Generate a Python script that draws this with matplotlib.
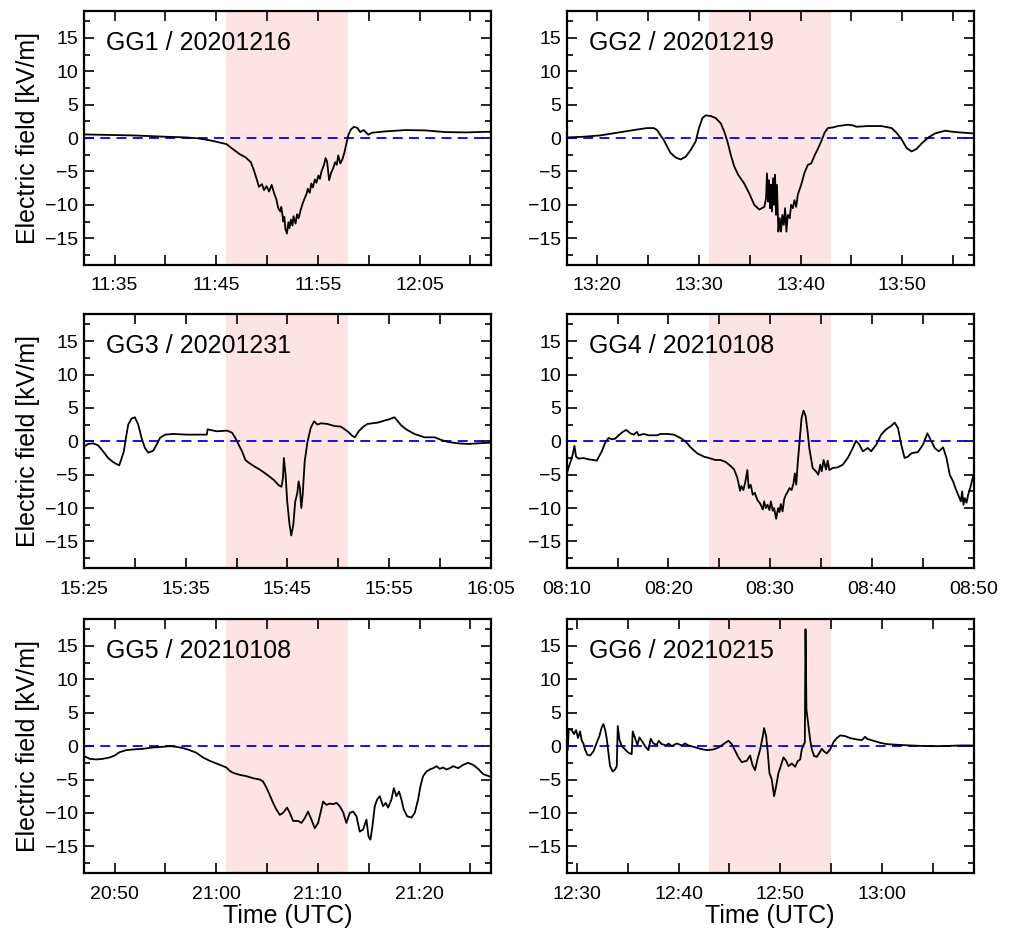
import numpy as np
import matplotlib
matplotlib.use('Agg')
import matplotlib.pyplot as plt
from matplotlib.ticker import MultipleLocator

plt.rcParams['font.family'] = ['Liberation Sans', 'DejaVu Sans']

# panel names, window start (40 min windows), start of shaded 12 min interval
names = ['GG1 / 20201216', 'GG2 / 20201219', 'GG3 / 20201231',
         'GG4 / 20210108', 'GG5 / 20210108', 'GG6 / 20210215']
starts = ['11:32', '13:17', '15:25', '08:10', '20:47', '12:29']
shade_on = ['11:46', '13:31', '15:39', '08:24', '21:01', '12:43']
shade_len = 12
xlabels = [['11:35', '11:45', '11:55', '12:05'],
           ['13:20', '13:30', '13:40', '13:50'],
           ['15:25', '15:35', '15:45', '15:55', '16:05'],
           ['08:10', '08:20', '08:30', '08:40', '08:50'],
           ['20:50', '21:00', '21:10', '21:20'],
           ['12:30', '12:40', '12:50', '13:00']]

# minutes after window start, electric field [kV/m]
t1 = [0.0, 1.5, 4.8, 8.1, 10.0, 11.3, 12.6, 14.0, 14.6, 15.3,
      15.9, 16.4, 16.7, 17.05, 17.2, 17.5, 17.7, 17.95, 18.2, 18.45,
      18.7, 18.9, 19.1, 19.3, 19.4, 19.6, 19.7, 19.8, 19.95, 20.1,
      20.2, 20.35, 20.5, 20.6, 20.8, 20.95, 21.1, 21.3, 21.5, 21.7,
      21.9, 22.0, 22.2, 22.35, 22.5, 22.7, 22.85, 23.05, 23.2, 23.35,
      23.6, 23.75, 23.9, 24.1, 24.3, 24.5, 24.7, 24.85, 25.0, 25.2,
      25.4, 25.6, 25.8, 26.0, 26.25, 26.55, 26.9, 27.15, 27.5, 27.7,
      27.95, 28.3, 29.6, 31.6, 33.55, 35.5, 37.5, 40.0]
e1 = [0.55, 0.5, 0.4, 0.2, 0.1, -0.05, -0.4, -0.9, -1.6, -2.4,
      -2.9, -3.6, -4.8, -6.5, -7.3, -6.9, -7.8, -7.2, -8.0, -7.0,
      -8.3, -9.1, -10.5, -11.0, -10.3, -12.5, -11.8, -13.6, -14.3, -12.6,
      -13.5, -12.2, -13.1, -11.7, -12.8, -11.4, -12.0, -10.8, -9.8, -9.0,
      -8.3, -7.6, -8.2, -6.8, -7.4, -6.2, -6.7, -5.6, -6.1, -5.0,
      -4.0, -3.0, -3.5, -6.3, -5.2, -4.5, -3.6, -4.0, -2.6, -3.8,
      -3.2, -2.2, -0.8, 0.5, 1.3, 1.7, 1.5, 0.9, 1.2, 0.9,
      0.5, 0.8, 1.0, 1.2, 1.15, 0.9, 0.85, 0.95]

t2 = [0.0, 1.65, 3.3, 4.94, 6.59, 7.9, 8.56, 8.89, 9.22, 9.55,
      9.88, 10.2, 10.7, 11.2, 11.69, 12.18, 12.68, 13.0, 13.34, 13.66,
      14.16, 14.65, 15.15, 15.48, 15.8, 16.13, 16.46, 16.86, 17.45, 17.95,
      18.44, 18.93, 19.43, 19.6, 19.69, 19.79, 19.89, 19.99, 20.08, 20.18,
      20.28, 20.38, 20.48, 20.58, 20.67, 20.81, 20.94, 21.07, 21.2, 21.34,
      21.47, 21.6, 21.73, 21.93, 22.06, 22.23, 22.39, 22.56, 22.72, 23.05,
      23.38, 23.71, 24.04, 24.37, 24.7, 25.02, 25.35, 25.68, 26.18, 26.67,
      27.66, 28.15, 28.48, 29.63, 30.95, 31.94, 32.43, 32.93, 33.42, 33.92,
      34.41, 34.9, 35.56, 36.22, 37.2, 38.2, 40.0]
e2 = [0.1, 0.2, 0.4, 0.8, 1.2, 1.5, 1.5, 1.2, 0.4, -0.3,
      -1.3, -2.2, -2.9, -3.2, -2.8, -1.8, -0.5, 1.5, 3.0, 3.4,
      3.3, 3.0, 2.2, 1.0, -0.5, -2.5, -4.2, -5.5, -6.8, -8.3,
      -10.0, -10.7, -10.3, -9.0, -5.3, -9.5, -6.3, -10.5, -7.0, -11.0,
      -6.0, -10.0, -5.5, -11.5, -7.0, -14.0, -12.0, -14.0, -11.5, -13.0,
      -10.5, -14.0, -11.5, -12.0, -10.0, -10.5, -9.3, -10.3, -8.5, -7.0,
      -5.2, -4.0, -3.8, -2.6, -1.6, -0.5, 0.8, 1.5, 1.6, 1.8,
      2.0, 1.9, 1.7, 1.8, 1.8, 1.5, 0.8, -0.2, -1.5, -2.0,
      -1.6, -0.8, 0.1, 0.7, 1.1, 0.9, 0.7]

t3 = [0.0, 0.4, 0.89, 1.38, 1.88, 2.37, 2.86, 3.19, 3.46, 3.69,
      3.92, 4.12, 4.35, 4.67, 5.0, 5.33, 5.66, 5.99, 6.32, 6.81,
      7.14, 7.47, 7.97, 8.79, 10.1, 11.42, 12.08, 12.15, 12.41, 13.07,
      14.06, 14.55, 14.88, 15.21, 15.54, 15.87, 16.2, 16.69, 17.35, 18.0,
      18.67, 19.16, 19.42, 19.56, 19.65, 19.82, 19.98, 20.21, 20.38, 20.58,
      20.77, 20.97, 21.1, 21.23, 21.37, 21.5, 21.7, 21.96, 22.29, 22.62,
      22.95, 23.28, 23.93, 24.59, 25.25, 25.91, 26.4, 26.63, 27.06, 27.56,
      27.88, 28.87, 29.53, 30.02, 30.52, 30.85, 31.18, 31.67, 32.49, 33.48,
      34.47, 35.13, 35.79, 36.77, 37.76, 38.75, 40.0]
e3 = [-0.8, -0.4, -0.3, -0.6, -1.5, -2.5, -3.1, -3.4, -3.6, -2.6,
      -1.5, 0.5, 2.5, 3.4, 3.6, 2.5, 0.5, -1.0, -1.7, -1.4,
      -0.5, 0.5, 1.0, 1.1, 1.0, 1.0, 1.0, 1.8, 1.7, 1.5,
      1.6, 1.3, 0.5, -0.5, -1.5, -2.8, -3.2, -3.7, -4.3, -5.0,
      -5.8, -6.6, -6.8, -5.5, -2.5, -5.0, -9.0, -12.5, -14.1, -12.5,
      -9.0, -7.8, -6.0, -7.0, -10.0, -8.0, -3.0, -0.2, 2.0, 3.0,
      2.5, 2.7, 2.6, 2.3, 2.2, 1.5, 0.8, 0.6, 1.6, 2.3,
      2.6, 2.8, 3.1, 3.3, 3.6, 3.0, 2.4, 1.8, 1.1, 0.6,
      0.6, 0.2, -0.1, -0.3, -0.4, -0.3, -0.2]

t4 = [0.0, 0.16, 0.39, 0.59, 0.76, 0.92, 1.15, 1.64, 2.14, 2.63,
      2.96, 3.13, 3.45, 3.78, 4.11, 4.44, 4.77, 5.1, 5.59, 5.86,
      6.25, 6.58, 6.91, 7.07, 7.57, 8.06, 8.88, 9.21, 9.87, 10.53,
      11.18, 11.68, 12.17, 12.83, 13.49, 13.98, 14.64, 15.13, 15.63, 16.12,
      16.45, 16.61, 16.78, 16.91, 17.04, 17.17, 17.37, 17.57, 17.76, 17.89,
      18.09, 18.29, 18.49, 18.75, 19.01, 19.28, 19.41, 19.57, 19.74, 19.93,
      20.07, 20.26, 20.39, 20.59, 20.79, 20.92, 21.05, 21.22, 21.38, 21.55,
      21.71, 21.91, 22.11, 22.3, 22.43, 22.57, 22.7, 22.89, 23.09, 23.29,
      23.49, 23.68, 23.85, 24.01, 24.18, 24.51, 24.74, 24.93, 25.07, 25.26,
      25.49, 25.66, 25.82, 26.15, 26.64, 27.14, 27.63, 28.13, 28.45, 28.78,
      29.11, 29.61, 29.93, 30.43, 30.92, 31.41, 31.91, 32.24, 32.57, 32.89,
      33.22, 33.55, 33.88, 34.54, 35.03, 35.46, 35.86, 36.18, 36.58, 37.01,
      37.34, 37.66, 37.99, 38.22, 38.49, 38.75, 38.88, 39.01, 39.14, 39.31,
      39.47, 39.67, 40.0]
e4 = [-5.0, -4.0, -3.0, -2.0, -0.7, -2.3, -2.6, -2.5, -2.7, -2.8,
      -2.9, -2.4, -1.5, -0.2, 0.5, 0.3, 0.4, 0.9, 1.5, 1.7,
      1.2, 1.0, 1.4, 0.9, 1.1, 0.9, 0.9, 1.1, 1.1, 1.0,
      0.5, 0.0, -0.9, -1.8, -2.3, -2.5, -2.8, -2.8, -3.1, -3.7,
      -4.2, -4.8, -5.5, -6.4, -7.4, -6.7, -7.3, -6.0, -4.3, -7.0,
      -6.5, -8.0, -7.7, -8.8, -9.3, -10.2, -9.0, -10.0, -9.5, -10.3,
      -9.0, -10.4, -10.0, -11.6, -10.0, -10.6, -9.4, -10.5, -8.7, -8.0,
      -7.6, -7.0, -7.3, -6.3, -4.8, -6.5, -3.5, 0.0, 3.5, 4.6,
      3.8, 1.5, -1.0, -2.5, -4.0, -4.5, -5.0, -3.5, -4.5, -2.8,
      -4.2, -2.9, -4.3, -4.0, -3.9, -3.5, -2.5, -1.0, 0.1, -0.5,
      -1.5, -1.0, -1.5, -0.5, 1.0, 1.8, 2.3, 2.8, 2.0, -0.5,
      -2.5, -2.3, -1.8, -1.6, -0.5, 1.2, 0.0, -1.0, -1.5, -0.9,
      -2.5, -5.0, -6.0, -7.0, -8.0, -9.0, -7.5, -9.5, -8.5, -9.2,
      -8.0, -7.0, -5.0]

t5 = [0.0, 0.56, 1.21, 1.87, 2.52, 3.02, 3.51, 4.16, 4.82, 5.8,
      6.79, 7.77, 8.43, 9.08, 9.74, 10.39, 11.05, 11.7, 12.36, 13.02,
      14.0, 14.33, 14.66, 15.31, 15.97, 16.62, 17.28, 17.61, 17.93, 18.26,
      18.59, 18.92, 19.25, 19.57, 19.97, 20.23, 20.56, 21.05, 21.38, 21.7,
      22.03, 22.36, 22.69, 23.02, 23.25, 23.51, 23.84, 24.16, 24.49, 24.82,
      25.15, 25.48, 25.8, 26.13, 26.46, 26.79, 27.11, 27.44, 27.77, 27.97,
      28.16, 28.36, 28.59, 28.82, 29.08, 29.41, 29.67, 29.9, 30.23, 30.46,
      30.72, 30.98, 31.21, 31.44, 31.77, 32.2, 32.52, 32.85, 33.08, 33.34,
      33.67, 34.0, 34.33, 34.66, 34.98, 35.31, 35.64, 35.97, 36.3, 36.79,
      37.28, 37.77, 38.26, 38.75, 39.25, 40.0]
e5 = [-1.5, -1.9, -2.0, -1.9, -1.7, -1.4, -0.9, -0.6, -0.5, -0.4,
      -0.2, -0.1, 0.0, -0.1, -0.3, -0.6, -1.0, -1.7, -2.2, -2.6,
      -3.2, -3.7, -4.0, -4.3, -4.5, -4.8, -5.0, -5.3, -6.2, -7.3,
      -8.5, -9.5, -10.3, -10.0, -9.2, -10.0, -11.2, -11.2, -11.5, -10.8,
      -9.8, -11.0, -12.3, -11.5, -10.0, -8.3, -8.8, -8.6, -8.7, -8.5,
      -9.0, -9.9, -11.5, -10.0, -9.8, -10.5, -12.8, -12.5, -11.0, -13.5,
      -14.0, -12.0, -9.0, -8.0, -7.5, -9.0, -8.5, -9.2, -8.0, -6.3,
      -7.5, -6.8, -8.0, -9.5, -10.5, -10.7, -10.0, -8.0, -6.0, -4.5,
      -3.8, -3.5, -3.3, -3.0, -3.4, -3.2, -3.5, -3.3, -3.0, -3.3,
      -2.8, -2.5, -2.8, -3.4, -4.2, -4.6]

t6 = [0.0, 0.1, 0.2, 0.49, 0.72, 0.92, 1.11, 1.31, 1.48, 1.64,
      1.8, 2.03, 2.3, 2.62, 2.95, 3.21, 3.44, 3.61, 3.77, 3.93,
      4.1, 4.26, 4.52, 4.75, 4.92, 5.02, 5.18, 5.41, 5.74, 6.07,
      6.39, 6.49, 6.72, 6.95, 7.15, 7.38, 7.7, 8.03, 8.26, 8.52,
      8.85, 9.05, 9.34, 9.84, 10.0, 10.33, 10.82, 11.31, 11.64, 11.97,
      12.46, 13.11, 13.77, 14.43, 14.92, 15.41, 15.9, 16.23, 16.56, 16.89,
      17.21, 17.7, 18.03, 18.26, 18.52, 18.75, 19.02, 19.28, 19.41, 19.61,
      19.77, 19.93, 20.16, 20.39, 20.59, 20.82, 20.98, 21.31, 21.57, 21.8,
      22.13, 22.46, 22.69, 22.95, 23.11, 23.28, 23.41, 23.48, 23.57, 23.77,
      23.93, 24.1, 24.33, 24.59, 24.85, 25.08, 25.31, 25.57, 25.9, 26.23,
      26.56, 26.89, 27.38, 27.87, 28.52, 29.02, 29.34, 29.51, 30.16, 30.82,
      31.48, 32.46, 33.77, 35.41, 37.05, 38.69, 40.0]
e6 = [2.5, -0.6, 2.6, 2.4, 1.8, 2.4, 1.2, 2.2, 0.8, 0.4,
      -0.5, -1.3, -1.4, -0.8, 0.5, 1.5, 2.8, 3.3, 2.5, 1.2,
      -1.0, -3.0, -3.8, -3.5, -3.0, 3.0, 1.0, 0.0, -0.5, -1.0,
      -1.2, 2.2, 1.2, 0.2, 1.3, 0.8, 0.0, -0.6, 1.1, 0.4,
      0.2, 0.8, 0.3, 0.1, 0.4, 0.0, 0.4, 0.1, 0.4, 0.1,
      -0.1, -0.4, -0.6, -0.5, -0.2, 0.3, 0.8, 0.3, -0.7, -1.7,
      -2.4, -2.2, -1.4, -2.8, -3.6, -2.0, -0.5, 1.5, 2.7, 1.5,
      -1.0, -4.0, -5.0, -7.5, -6.0, -4.0, -3.3, -1.7, -2.2, -3.0,
      -2.6, -3.1, -2.3, -2.0, -0.5, 0.2, 0.5, 17.5, 5.5, 3.0,
      1.0, -0.5, -1.5, -1.6, -1.0, -0.4, -0.8, -1.1, -0.5, 0.6,
      1.2, 1.6, 1.5, 1.2, 1.0, 0.9, 1.4, 1.1, 0.8, 0.5,
      0.3, 0.2, 0.1, 0.0, 0.0, 0.1, 0.1]

times = [t1, t2, t3, t4, t5, t6]
fields = [e1, e2, e3, e4, e5, e6]


def hm(s):
    h, m = s.split(':')
    return int(h) * 60 + int(m)


fig = plt.figure(figsize=(10.12, 9.33), dpi=100)
lefts = [0.083, 0.560]
bottoms = [0.716, 0.391, 0.0643]
w, h = 0.402, 0.272

for i in range(6):
    row, col = i // 2, i % 2
    ax = fig.add_axes([lefts[col], bottoms[row], w, h])
    t0 = hm(starts[i])
    x = t0 + np.array(times[i])
    s0 = hm(shade_on[i])
    ax.axvspan(s0, s0 + shade_len, color='#fde3e3', lw=0, zorder=0)
    ax.axhline(0, color='#0000ee', lw=1.3, dashes=(5.5, 3.5), zorder=2)
    ax.plot(x, fields[i], color='black', lw=1.3, zorder=3)

    ax.set_xlim(t0, t0 + 40)
    ax.set_ylim(-19, 19)
    ax.set_xticks([hm(s) for s in xlabels[i]], xlabels[i])
    ax.xaxis.set_minor_locator(MultipleLocator(5))
    ax.set_yticks([-15, -10, -5, 0, 5, 10, 15], ['\u221215', '\u221210', '\u22125', '0', '5', '10', '15'])
    ax.yaxis.set_minor_locator(MultipleLocator(2.5))
    ax.tick_params(which='both', direction='in', top=True, right=True,
                   labelsize=14, width=1.2, color='black')
    ax.tick_params(axis='y', which='major', length=7, pad=4)
    ax.tick_params(axis='y', which='minor', length=4)
    ax.tick_params(axis='x', which='both', length=7, pad=9)
    for sp in ax.spines.values():
        sp.set_linewidth(1.6)

    ax.text(0.054, 0.875, names[i], transform=ax.transAxes,
            fontsize=18, va='center', ha='left', zorder=5)
    if col == 0:
        ax.set_ylabel('Electric field [kV/m]', fontsize=18, labelpad=4)
    if row == 2:
        ax.set_xlabel('Time (UTC)', fontsize=18, labelpad=1)

fig.savefig('out.png', dpi=100)
